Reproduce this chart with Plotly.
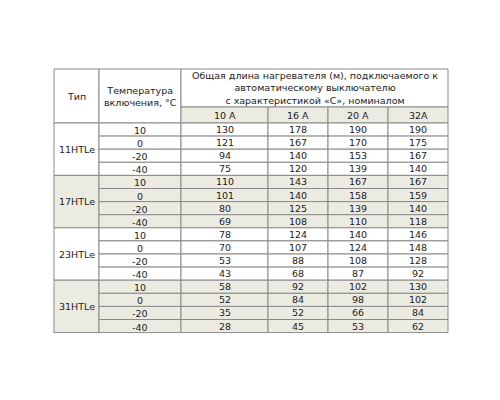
import plotly.graph_objects as go

# data
types = ["11HTLe", "17HTLe", "23HTLe", "31HTLe"]
temps = ["10", "0", "-20", "-40"]
ratings = ["10 A", "16 A", "20 A", "32A"]
vals_11 = [[130, 178, 190, 190], [121, 167, 170, 175], [94, 140, 153, 167], [75, 120, 139, 140]]
vals_17 = [[110, 143, 167, 167], [101, 140, 158, 159], [80, 125, 139, 140], [69, 108, 110, 118]]
vals_23 = [[78, 124, 140, 146], [70, 107, 124, 148], [53, 88, 108, 128], [43, 68, 87, 92]]
vals_31 = [[58, 92, 102, 130], [52, 84, 98, 102], [35, 52, 66, 84], [28, 45, 53, 62]]
groups = [vals_11, vals_17, vals_23, vals_31]
head_type = "Тип"
head_temp = "Температура<br>включения, °C"
head_len = "Общая длина нагревателя (м), подключаемого к<br>автоматическому выключателю<br>с характеристикой «С», номиналом"

# geometry (pixels; page offset compensated)
OFF = 7
col_x = [53 - OFF, 98 - OFF, 180 - OFF, 267 - OFF, 327 - OFF, 387 - OFF, 447 - OFF]
top, head_mid, head_bot = 68 - OFF, 106 - OFF, 122 - OFF
row_h = 13.1
BEIGE = "#ecebe2"
LINE = "#8a8a8a"
TXT = "#222222"
FONT = dict(family="DejaVu Sans", size=9.5, color=TXT)

fig = go.Figure()
shapes, ann = [], []

def rect(x0, y0, x1, y1, fill):
    shapes.append(dict(type="rect", xref="x", yref="y", x0=x0, y0=y0, x1=x1, y1=y1,
                       fillcolor=fill, line=dict(color=LINE, width=1), layer="below"))

def text(x, y, t):
    ann.append(dict(x=x, y=y, xref="x", yref="y", text=t, showarrow=False, font=FONT))

# header
rect(col_x[0], top, col_x[1], head_bot, "white")
text((col_x[0] + col_x[1]) / 2, (top + head_bot) / 2, head_type)
rect(col_x[1], top, col_x[2], head_bot, "white")
text((col_x[1] + col_x[2]) / 2, (top + head_bot) / 2, head_temp)
rect(col_x[2], top, col_x[6], head_mid, "white")
text((col_x[2] + col_x[6]) / 2, (top + head_mid) / 2, head_len)
for j, r in enumerate(ratings):
    rect(col_x[2 + j], head_mid, col_x[3 + j], head_bot, BEIGE)
    text((col_x[2 + j] + col_x[3 + j]) / 2, (head_mid + head_bot) / 2, r)

# body
for g, (name, vals) in enumerate(zip(types, groups)):
    fill = BEIGE if g % 2 else "white"
    g0 = head_bot + g * 4 * row_h
    rect(col_x[0], g0, col_x[1], g0 + 4 * row_h, fill)
    text((col_x[0] + col_x[1]) / 2, g0 + 2 * row_h, name)
    for i, t in enumerate(temps):
        y0 = g0 + i * row_h
        rect(col_x[1], y0, col_x[2], y0 + row_h, fill)
        text((col_x[1] + col_x[2]) / 2, y0 + row_h / 2 + 1, t)
        for j, v in enumerate(vals[i]):
            rect(col_x[2 + j], y0, col_x[3 + j], y0 + row_h, fill)
            text((col_x[2 + j] + col_x[3 + j]) / 2, y0 + row_h / 2, str(v))

fig.update_layout(
    width=500, height=400, margin=dict(l=0, r=0, t=0, b=0),
    plot_bgcolor="white", paper_bgcolor="white",
    shapes=shapes, annotations=ann,
    xaxis=dict(range=[0, 500], visible=False, fixedrange=True),
    yaxis=dict(range=[400, 0], visible=False, fixedrange=True),
)
fig.write_html("out.html")
